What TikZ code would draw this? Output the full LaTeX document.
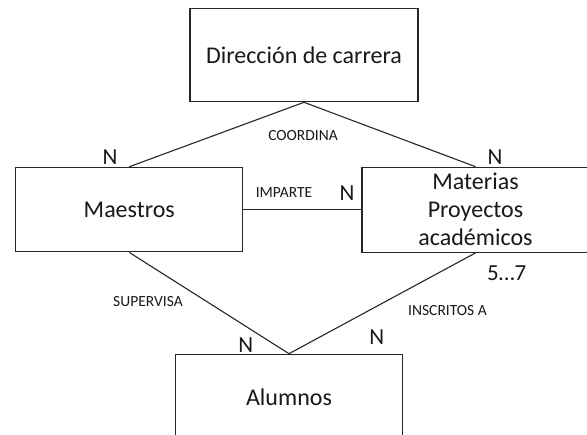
\documentclass[tikz,border=0pt]{standalone}
\usepackage{fontspec}
\setmainfont{Carlito}
\begin{document}
\begin{tikzpicture}[x=1pt,y=-1pt,
  ent/.style={draw=black!85, line width=1.2pt, minimum width=227pt, text=black!90,
    font=\fontsize{24}{28}\selectfont, inner sep=0pt, align=center},
  rel/.style={draw=black!85, line width=1.1pt},
  lab/.style={text=black!90, font=\fontsize{15.5}{18}\selectfont, inner sep=0pt},
  card/.style={text=black!90, font=\fontsize{23}{26}\selectfont, inner sep=0pt}]
\useasboundingbox (0,0) rectangle (587,435);
\fill[white] (0,0) rectangle (587,435);
\clip (0,0) rectangle (587,435);
% entities
\node[ent, minimum width=228pt, minimum height=93pt] (dir) at (304,55.2) {Dirección de carrera};
\node[ent, minimum height=84.5pt] (maes) at (129.3,209.6) {Maestros};
\node[ent, minimum height=85pt] (mat) at (475.5,209.8) {Materias\\Proyectos\\académicos};
\node[ent, minimum height=85pt] (alum) at (289,396.8) {Alumnos};
% relationships
\draw[rel] (dir.south) -- (maes.north);
\draw[rel] (dir.south) -- (mat.north);
\draw[rel] (maes.east) -- (maes.east -| mat.west);
\draw[rel] (maes.south) -- (alum.north);
\draw[rel] (mat.south) -- (alum.north);
% relationship labels
\node[lab] (lcoord) at (303,136) {COORDINA};
\node[lab] (limp) at (284,193) {IMPARTE};
\node[lab] (lsup) at (148,301.7) {SUPERVISA};
\node[lab] (lins) at (447.5,311) {INSCRITOS A};
% cardinalities
\node[card] (n1) at (110,157) {N};
\node[card] (n2) at (495,157) {N};
\node[card] (n3) at (347,193) {N};
\node[card] (n4) at (245.7,345) {N};
\node[card] (n5) at (376.7,337) {N};
\node[card] (n6) at (506.7,273) {5…7};
\end{tikzpicture}
\end{document}
